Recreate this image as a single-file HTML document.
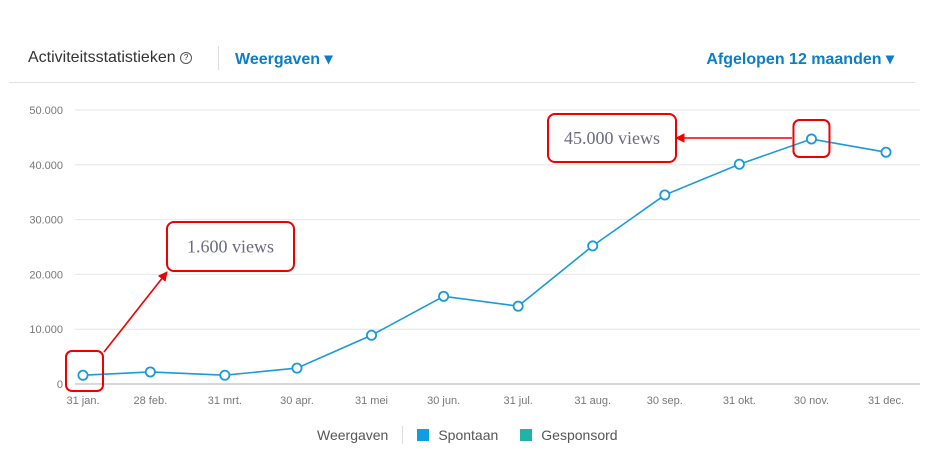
<!DOCTYPE html>
<html><head><meta charset="utf-8"><style>
body{margin:0;width:928px;height:451px;background:#fff;font-family:"Liberation Sans",sans-serif;overflow:hidden;position:relative}
.t{position:absolute;white-space:nowrap}
</style></head><body>
<div class="t" style="left:28px;top:49px;font-size:16px;color:#333">Activiteitsstatistieken <span style="border:1px solid #555;border-radius:50%;display:inline-block;width:10px;height:10px;line-height:10px;text-align:center;font-size:8px;vertical-align:2px">?</span></div>
<div style="position:absolute;left:218px;top:46px;width:1px;height:24px;background:#ddd"></div>
<div class="t" style="left:235px;top:49px;font-size:16px;color:#0a7fc7;font-weight:bold">Weergaven ▾</div>
<div class="t" style="right:34px;top:49px;font-size:16px;color:#0a7fc7;font-weight:bold">Afgelopen 12 maanden ▾</div>
<div style="position:absolute;left:9px;top:82px;width:906px;height:1px;background:#e2e2e2"></div>
<svg id="c" width="928" height="451" style="position:absolute;left:0;top:0"></svg>
<div class="t" style="left:317px;top:426px;font-size:14px;color:#555">Weergaven<span style="display:inline-block;width:1px;height:18px;background:#ddd;margin:0 14px;vertical-align:-4px"></span><span style="display:inline-block;width:12px;height:12px;background:#0f9ee0;vertical-align:-1px;margin-right:9px"></span>Spontaan<span style="display:inline-block;width:12px;height:12px;background:#22b3a8;vertical-align:-1px;margin:0 9px 0 22px"></span>Gesponsord</div>
<script>
const categories=["31 jan.","28 feb.","31 mrt.","30 apr.","31 mei","30 jun.","31 jul.","31 aug.","30 sep.","31 okt.","30 nov.","31 dec."];
const dayOfYear=[31,59,90,120,151,181,212,243,273,304,334,365];
const views=[1600,2200,1600,2900,8900,16000,14200,25200,34500,40100,44700,42300];
const yTicks=[0,10000,20000,30000,40000,50000];
const yTickLabels=["0","10.000","20.000","30.000","40.000","50.000"];
const svg=document.getElementById('c');const NS="http://www.w3.org/2000/svg";
const x=d=>83+(d-31)*(886-83)/334;
const y=v=>384-v*274/50000;
function mk(t,a,p){const e=document.createElementNS(NS,t);for(const k in a)e.setAttribute(k,a[k]);(p||svg).appendChild(e);return e;}
yTicks.forEach((v,i)=>{
 const g=mk('line',{x1:75,x2:920,y1:y(v),y2:y(v),stroke:v===0?'#ccc':'#e6e6e6','stroke-width':v===0?1.5:1});
 
 const t=mk('text',{x:63,y:y(v)+4,'text-anchor':'end','font-size':11,fill:'#777','font-family':'Liberation Sans'});t.textContent=yTickLabels[i];
 
});
categories.forEach((c,i)=>{const t=mk('text',{x:x(dayOfYear[i]),y:404,'text-anchor':'middle','font-size':11,fill:'#777','font-family':'Liberation Sans'});t.textContent=c;
 });
const line=mk('polyline',{points:views.map((v,i)=>x(dayOfYear[i])+','+y(v)).join(' '),fill:'none',stroke:'#1a9ad8','stroke-width':1.6});

views.forEach((v,i)=>{const p=mk('circle',{cx:x(dayOfYear[i]),cy:y(v),r:4.6,fill:'#fff',stroke:'#1a9ad8','stroke-width':1.8});
 });
function ann(bx,by,w,h,label,name){const r=mk('rect',{x:bx,y:by,width:w,height:h,rx:7,fill:'#fff',stroke:'#e00',
 'stroke-width':2});
 const t=mk('text',{x:bx+w/2,y:by+h/2+6,'text-anchor':'middle','font-size':18,fill:'#6b6b80','font-family':'Liberation Serif'});t.textContent=label;
 }
mk('defs',{}).innerHTML='<marker id="ar" viewBox="0 0 10 10" refX="9" refY="5" markerWidth="6" markerHeight="6" orient="auto"><path d="M0,0L10,5L0,10z" fill="#e00"/></marker>';
const hl1=mk('rect',{x:x(dayOfYear[0])-17,y:351,width:37,height:40,rx:6,fill:'none',stroke:'#e00','stroke-width':2});

const hl2=mk('rect',{x:x(dayOfYear[10])-18,y:120,width:36,height:37,rx:6,fill:'none',stroke:'#e00','stroke-width':2});

const a1=mk('line',{x1:104,y1:352,x2:167,y2:272,stroke:'#e00','stroke-width':1.6,'marker-end':'url(#ar)'});

const a2=mk('line',{x1:792,y1:138,x2:676,y2:138,stroke:'#e00','stroke-width':1.6,'marker-end':'url(#ar)'});

ann(167,222,127,49,'1.600 views','jan-annotation');
ann(548,114,128,48,'45.000 views','nov-annotation');
</script>
</body></html>
